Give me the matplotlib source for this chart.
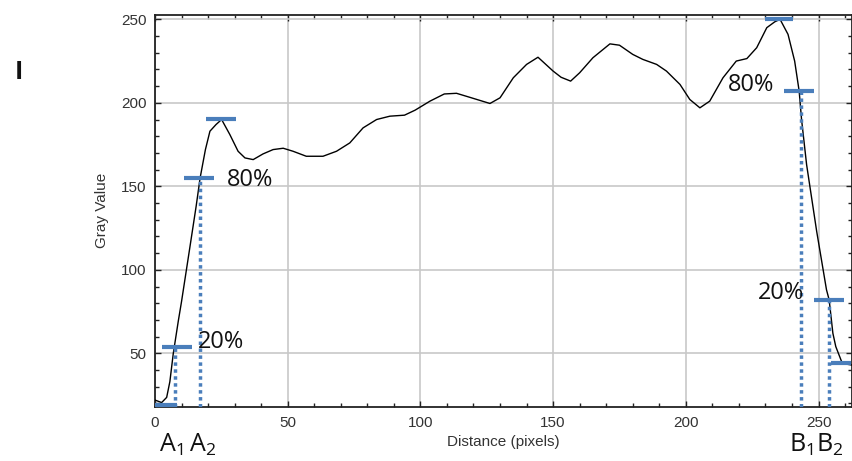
import numpy as np
import matplotlib.pyplot as plt
from matplotlib.ticker import MultipleLocator

# Profile along the line
distance = [0, 2.5, 4.4, 5.6, 6.9, 8.8, 10, 13, 15.5, 17, 19, 20.7, 23, 25.1,
            28.2, 31.3, 33.9, 37, 40.7, 44.5, 48.3, 52, 57, 63.3, 68.4, 73.4,
            78.4, 83.5, 88.5, 94, 98, 103.6, 109, 113.6, 118.6, 126.2, 130,
            135, 140, 144.3, 150, 153, 156.6, 160, 165, 171.4, 175, 180, 183.8,
            189, 192.7, 197.8, 201.5, 205.3, 209, 214, 219, 223, 226.7, 230.5,
            233.5, 235.5, 238.5, 241, 242.7, 243.6, 245.5, 249.3, 253, 254,
            255.4, 256.5, 258.7, 260.5, 262.5]
gray = [22, 20.5, 23.6, 33, 50, 69.5, 81, 112, 138, 155, 172, 183, 187, 190,
        181, 171, 167, 166, 169.4, 172, 172.8, 171, 168, 168, 171, 176,
        185, 190, 192, 192.6, 195.6, 201, 205.3, 205.7, 203.3, 199.6, 203,
        215, 223, 227.3, 219, 215.3, 213, 218, 227, 235.3, 234.5, 229, 226,
        223, 219, 211, 202, 197, 201, 215, 225, 226.5, 233, 245,
        248.5, 250, 241, 225, 207, 190, 163, 123, 88, 82,
        62, 54, 45, 43.5, 43]

# level markers: (level, x start, x end)
bar_levels = [19, 54, 155, 190.3, 250, 207, 82, 44]
bar_x0 = [0, 2.6, 10.9, 19.2, 229.8, 237, 248.3, 254.7]
bar_x1 = [8.3, 14, 22.2, 30.5, 240.3, 248.3, 259.6, 262.3]

# edge positions A1, A2, B1, B2 and the level they drop from
edge_x = [7.5, 17, 243.5, 253.8]
edge_top = [54, 155, 207, 82]

pct_labels = ['80%', '20%', '80%', '20%']
pct_x = [27.2, 16.2, 215.7, 227]
pct_y = [153.8, 56.8, 210.7, 86]

blue = '#4a7ebb'
ymin, ymax = 18, 252.6
xmin, xmax = 0, 262.5

plt.rcParams['mathtext.fontset'] = 'custom'
plt.rcParams['mathtext.rm'] = 'Open Sans'
plt.rcParams['mathtext.it'] = 'Open Sans'

fig = plt.figure(figsize=(8.53, 4.61), dpi=100)
ax = fig.add_axes([0.1817, 0.1177, 0.8168, 0.8498])

ax.plot(distance, gray, color='black', lw=1.0, zorder=3)

for y, x0, x1 in zip(bar_levels, bar_x0, bar_x1):
    ax.plot([x0, x1], [y, y], color=blue, lw=3, solid_capstyle='butt',
            zorder=4, clip_on=False)

for x, top in zip(edge_x, edge_top):
    ax.plot([x, x], [ymin, top], color=blue, lw=2.5, ls=(0, (1, 1)), zorder=4)

for s, x, y in zip(pct_labels, pct_x, pct_y):
    ax.text(x, y, s, fontsize=17, family='Open Sans', va='center', ha='left',
            color='#111111', zorder=5)

ax.set_xlim(xmin, xmax)
ax.set_ylim(ymin, ymax)
ax.xaxis.set_major_locator(MultipleLocator(50))
ax.xaxis.set_minor_locator(MultipleLocator(10))
ax.yaxis.set_major_locator(MultipleLocator(50))
ax.yaxis.set_minor_locator(MultipleLocator(10))
ax.tick_params(which='both', direction='in', top=True, right=True,
               color='#222222')
ax.tick_params(which='major', length=4.5, width=1.0, labelsize=11,
               labelcolor='#333333', pad=7)
ax.tick_params(which='minor', length=3, width=1.0)
ax.tick_params(axis='y', which='major', pad=6)
for lab in ax.get_xticklabels() + ax.get_yticklabels():
    lab.set_family('Liberation Sans')
ax.grid(True, which='major', color='#c8c8c8', lw=1.2)
ax.set_axisbelow(True)
for sp in ax.spines.values():
    sp.set_color('#222222')
    sp.set_linewidth(1.3)

ax.set_xlabel('Distance (pixels)', fontsize=11, family='Liberation Sans',
              color='#333333', labelpad=3)
ax.set_ylabel('Gray Value', fontsize=11, family='Liberation Sans',
              color='#333333', labelpad=9)

fig.text(0.2204, 0.036, r'$\mathrm{A_1\,A_2}$', fontsize=18, ha='center',
         va='center', color='#111111')
fig.text(0.9566, 0.036, r'$\mathrm{B_1B_2}$', fontsize=18, ha='center',
         va='center', color='#111111')
fig.text(0.0223, 0.843, 'I', fontsize=18, fontweight='bold', family='Open Sans',
         ha='center', va='center', color='#111111')

fig.savefig('out.png', dpi=100)
